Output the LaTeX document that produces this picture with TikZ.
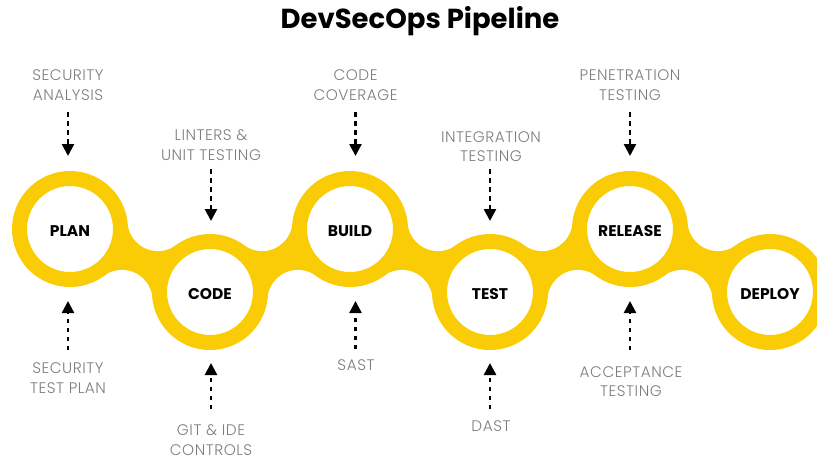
\documentclass[tikz,border=0pt]{standalone}
\usepackage{fontspec}
\setmainfont{Poppins}
\newfontfamily\lightfont[LetterSpace=3.5]{Poppins Light}
\usetikzlibrary{calc,arrows.meta}
\definecolor{pipeyellow}{RGB}{250,204,6}
\definecolor{labelgray}{RGB}{125,125,125}
\tikzset{
  stage/.style={circle, fill=white, draw=pipeyellow, line width=15pt,
    minimum size=101pt, inner sep=0pt, text=black,
    text height=14.5pt, text depth=0pt,
    font=\bfseries\fontsize{15.5}{18}\selectfont},
  note/.style={align=center, text=labelgray, inner sep=0pt,
    font=\lightfont\fontsize{15.3}{19.5}\selectfont},
  flow/.style={line width=2.5pt, dash pattern=on 4.5pt off 4.5pt,
    -{Triangle[width=12pt,length=12pt]}},
  titletext/.style={font=\bfseries\fontsize{27.5}{32}\selectfont, text=black},
}
\begin{document}
\begin{tikzpicture}[x=1pt,y=-1pt]
\useasboundingbox (0,0) rectangle (817,459);
\clip (0,0) rectangle (817,459);
% stage centres
\coordinate (c1) at (70,229);
\coordinate (c2) at (210,292);
\coordinate (c3) at (350,229);
\coordinate (c4) at (490,292);
\coordinate (c5) at (630,229);
\coordinate (c6) at (770,292);
% yellow bands with concave notches
\foreach \a/\b in {c1/c2,c2/c3,c3/c4,c4/c5,c5/c6}{
  \coordinate (m) at ($(\a)!0.5!(\b)$);
  \coordinate (n1) at ($(m)!43.7pt!90:(\b)$);
  \coordinate (n2) at ($(m)!43.7pt!-90:(\b)$);
  \fill[pipeyellow] (\a) -- (n1) -- (\b) -- (n2) -- cycle;
  \fill[white] (n1) circle[radius=30.4pt] (n2) circle[radius=30.4pt];
}
% stages
\node[stage] (plan) at (c1) {PLAN};
\node[stage] (code) at (c2) {CODE};
\node[stage] (build) at (c3) {BUILD};
\node[stage] (test) at (c4) {TEST};
\node[stage] (release) at (c5) {RELEASE};
\node[stage] (deploy) at (c6) {DEPLOY};
% title
\node[titletext] (title) at (420,21) {DevSecOps Pipeline};
% top notes
\node[note] (t1) at (68,85) {SECURITY\\ANALYSIS};
\node[note] (t2) at (211,145) {LINTERS \&\\UNIT TESTING};
\node[note] (t3) at (355.5,85) {CODE\\COVERAGE};
\node[note] (t4) at (491,146.5) {INTEGRATION\\TESTING};
\node[note] (t5) at (630,85) {PENETRATION\\TESTING};
% bottom notes
\node[note] (b1) at (68,378) {SECURITY\\TEST PLAN};
\node[note] (b2) at (211,440) {GIT \& IDE\\CONTROLS};
\node[note] (b3) at (356,365) {SAST};
\node[note] (b4) at (491,426) {DAST};
\node[note] (b5) at (631,381.5) {ACCEPTANCE\\TESTING};
% arrow ends
\coordinate (ta1) at (68,112);   \coordinate (th1) at (68,156);
\coordinate (ta2) at (211,169);  \coordinate (th2) at (211,221);
\coordinate (ta3) at (355.5,112);\coordinate (th3) at (355.5,156);
\coordinate (ta4) at (490,169);  \coordinate (th4) at (490,221);
\coordinate (ta5) at (630,112);  \coordinate (th5) at (630,156);
\coordinate (ba1) at (68,350);   \coordinate (bh1) at (68,301);
\coordinate (ba2) at (211,409);  \coordinate (bh2) at (211,363);
\coordinate (ba3) at (355.5,349);\coordinate (bh3) at (355.5,301);
\coordinate (ba4) at (490,409);  \coordinate (bh4) at (490,363);
\coordinate (ba5) at (630,350);  \coordinate (bh5) at (630,301);
\foreach \i in {1,...,5}{
  \draw[flow] (ta\i) -- (th\i);
  \draw[flow] (ba\i) -- (bh\i);
}
\end{tikzpicture}
\end{document}
